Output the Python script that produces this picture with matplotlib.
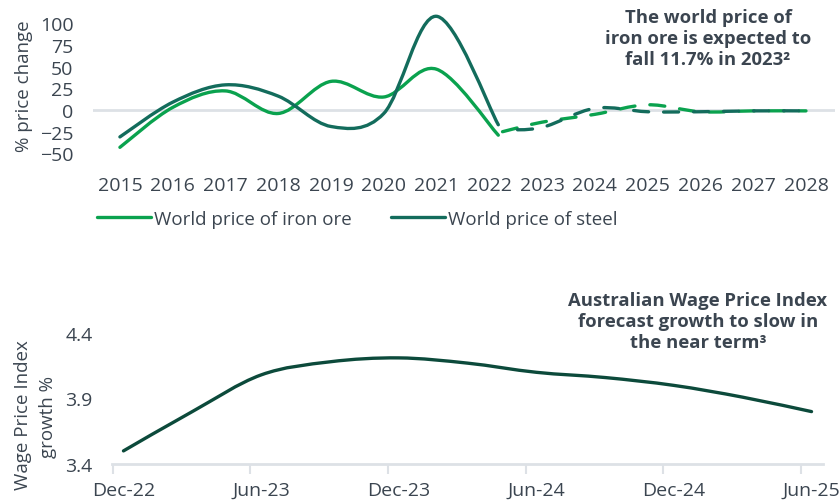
import numpy as np
import matplotlib
matplotlib.use("Agg")
import matplotlib.pyplot as plt
from matplotlib.path import Path
from matplotlib.patches import PathPatch
from matplotlib.lines import Line2D

plt.rcParams['font.family'] = ['Open Sans', 'DejaVu Sans']

# ---------------- data ----------------
# Top chart: % price change (actual)
years_actual = [2015, 2016, 2017, 2018, 2019, 2020, 2021, 2022.17]
iron_actual = [-43, 3, 22, -4, 33, 15, 47, -29]
steel_actual = [-31, 9, 29, 16, -19, -4, 108, -17]
# Top chart: forecast
years_fc = [2022.25, 2023, 2024, 2025, 2026, 2027, 2028]
iron_fc = [-25, -14, -5, 6, -2, -1, -1]
steel_fc = [-23, -20, 2, -2, -2, -1, -1]
year_ticks = [2015, 2016, 2017, 2018, 2019, 2020, 2021, 2022, 2023, 2024, 2025, 2026, 2027, 2028]
top_yticks = [-50, -25, 0, 25, 50, 75, 100]

# Bottom chart: Wage Price Index growth % (quarterly, months since Dec-22)
wpi_month = [0, 3, 6, 9, 12, 15, 18, 21, 24, 27, 30]
wpi_value = [3.50, 3.80, 4.08, 4.18, 4.21, 4.17, 4.10, 4.06, 4.00, 3.91, 3.80]
wpi_tick_pos = [0, 6, 12, 18, 24, 30]
wpi_tick_labels = ['Dec-22', 'Jun-23', 'Dec-23', 'Jun-24', 'Dec-24', 'Jun-25']
bottom_yticks = [3.4, 3.9, 4.4]

# ---------------- style ----------------
C_IRON = '#0aa24e'
C_STEEL = '#136c5c'
C_WPI = '#0c4a3b'
C_TEXT = '#3b4550'
C_GRID = '#dde1e6'
FS_TICK = 14
FS = 13.5
FS_TITLE = 13.3


def smooth_path(xs, ys):
    pts = np.column_stack([xs, ys]).astype(float)
    n = len(pts)
    verts = [pts[0]]
    codes = [Path.MOVETO]
    for i in range(n - 1):
        p0 = pts[i - 1] if i > 0 else pts[i]
        p1 = pts[i]
        p2 = pts[i + 1]
        p3 = pts[i + 2] if i + 2 < n else pts[i + 1]
        c1 = p1 + (p2 - p0) / 6.0
        c2 = p2 - (p3 - p1) / 6.0
        verts += [c1, c2, p2]
        codes += [Path.CURVE4] * 3
    return Path(verts, codes)


def add_curve(ax, xs, ys, color, lw, ls='-', z=3):
    patch = PathPatch(smooth_path(xs, ys), fill=False, edgecolor=color, lw=lw,
                      linestyle=ls, capstyle='round', joinstyle='round', zorder=z)
    ax.add_patch(patch)


W, H = 840, 502
fig = plt.figure(figsize=(W / 100, H / 100), dpi=100)

# ---------------- top chart ----------------
ax1 = fig.add_axes([93 / W, 1 - 160 / H, 742 / W, 150 / H])
ax1.set_xlim(2014.49, 2028.55)
ax1.set_ylim(-56.45, 116.4)
ax1.axhline(0, color=C_GRID, lw=2, zorder=1)
add_curve(ax1, years_actual, iron_actual, C_IRON, 2.4, z=3)
add_curve(ax1, years_actual, steel_actual, C_STEEL, 2.4, z=4)
add_curve(ax1, years_fc, iron_fc, C_IRON, 2.4, ls=(0, (4.5, 4.5)), z=3)
add_curve(ax1, years_fc, steel_fc, C_STEEL, 2.4, ls=(4.5, (4.5, 4.5)), z=4)
ax1.set_xticks(year_ticks)
ax1.set_xticklabels([str(y) for y in year_ticks])
ax1.set_yticks(top_yticks)
ax1.tick_params(axis='both', length=0, labelsize=FS_TICK, colors=C_TEXT)
ax1.tick_params(axis='x', pad=12)
ax1.tick_params(axis='y', pad=14)
for s in ax1.spines.values():
    s.set_visible(False)
fig.text(24 / W, 1 - 86 / H, '% price change', rotation=90, ha='center', va='center',
         fontsize=FS, color=C_TEXT)

handles = [Line2D([], [], color=C_IRON, lw=2.4, solid_capstyle='round'),
           Line2D([], [], color=C_STEEL, lw=2.4, solid_capstyle='round')]
fig.legend(handles, ['World price of iron ore', 'World price of steel'],
           loc='center left', bbox_to_anchor=(93 / W, 1 - 220 / H), ncol=2,
           frameon=False, fontsize=FS, labelcolor=C_TEXT,
           handlelength=2.9, handletextpad=0.15, columnspacing=2.1,
           borderaxespad=0, borderpad=0.2)

fig.text(708 / W, 1 - 39 / H,
         'The world price of\niron ore is expected to\nfall 11.7% in 2023²',
         ha='center', va='center', fontsize=FS_TITLE, fontweight='bold', color=C_TEXT,
         linespacing=1.18)

# ---------------- bottom chart ----------------
ax2 = fig.add_axes([112 / W, 1 - 465 / H, 711 / W, 140 / H])
ax2.set_xlim(-0.5, 30.5)
ax2.set_ylim(3.4, 3.4 + 140 / 131)
add_curve(ax2, wpi_month, wpi_value, C_WPI, 2.4)
ax2.set_xticks(wpi_tick_pos)
ax2.set_xticklabels(wpi_tick_labels)
ax2.set_xticks([p - 0.47 for p in wpi_tick_pos], minor=True)
ax2.set_yticks(bottom_yticks)
ax2.set_yticklabels(['3.4', '3.9', '4.4'])
ax2.tick_params(axis='both', which='major', length=0, labelsize=FS_TICK, colors=C_TEXT)
ax2.tick_params(axis='x', which='major', pad=12)
ax2.tick_params(axis='y', which='major', pad=14)
ax2.tick_params(axis='x', which='minor', length=7, width=1.5, color=C_GRID)
for k, s in ax2.spines.items():
    s.set_visible(k == 'bottom')
ax2.spines['bottom'].set_color(C_GRID)
ax2.spines['bottom'].set_linewidth(2)
fig.text(23 / W, 1 - 415 / H, 'Wage Price Index', rotation=90, ha='center', va='center',
         fontsize=FS, color=C_TEXT)
fig.text(48 / W, 1 - 417 / H, 'growth %', rotation=90, ha='center', va='center',
         fontsize=FS, color=C_TEXT)

fig.text(698 / W, 1 - 322 / H,
         'Australian Wage Price Index\nforecast growth to slow in\nthe near term³',
         ha='center', va='center', fontsize=FS_TITLE, fontweight='bold', color=C_TEXT,
         linespacing=1.18)

fig.savefig('out.png', dpi=100)
